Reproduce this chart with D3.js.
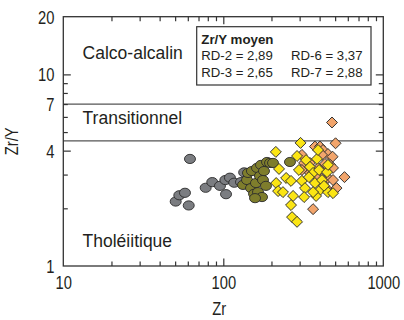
<!DOCTYPE html>
<html lang="fr">
<head>
<meta charset="UTF-8">
<title>Zr/Y vs Zr</title>
<script src="https://cdn.jsdelivr.net/npm/d3@7"></script>
<style>
    body { margin: 0; background: #fff; }
    text { font-family: "Liberation Sans", Arial, sans-serif; fill: #231f20; }
</style>
</head>
<body>
<div id="chart"></div>
<script>
    // values: [Zr, Zr/Y]
    var grisPts = [
        [61.9, 3.62], [50.4, 2.17], [53.1, 2.34], [57.6, 2.41], [60.8, 2.07],
        [77.6, 2.56], [85.3, 2.74], [95.3, 2.62], [104, 2.37], [103, 2.81],
        [110, 2.89], [117, 2.72], [129, 2.74], [135, 3.08]
    ];
    var olivePts = [
        [132.8, 2.65], [140.7, 2.81], [142.6, 3.06], [149, 2.55], [151, 3.13],
        [155.6, 2.38], [160, 2.71], [162.4, 3.25], [164.8, 2.43], [169.5, 2.95],
        [172, 3.37], [177, 2.81], [179.6, 3.13], [184.8, 2.62], [187.6, 3.49],
        [195.9, 3.45], [204.5, 3.45], [174.6, 2.29], [261, 3.49], [157.9, 2.26]
    ];
    var orangePts = [
        [478, 5.61], [503, 4.37], [374, 4.20], [402, 4.20], [420, 4.03],
        [310, 3.80], [451, 3.84], [482, 3.72], [320, 3.45], [348, 3.45],
        [432, 3.41], [465, 3.37], [310, 3.17], [348, 3.06], [485, 3.25],
        [451, 2.88], [572, 2.91], [510, 2.55], [364, 1.98], [408, 2.88],
        [485, 2.81], [414, 3.80], [391, 3.25], [439, 2.55], [380, 2.95]
    ];
    var jaunePts = [
        [213, 3.94], [223, 3.21], [214, 2.71], [220, 2.46], [236, 2.43],
        [247, 2.88], [265, 2.78], [273, 2.32], [265, 2.08], [269, 1.80],
        [289, 1.70], [289, 3.75], [304, 4.39], [297, 3.17], [310, 2.78],
        [324, 2.55], [320, 2.29], [329, 3.57], [348, 3.29], [364, 3.06],
        [374, 2.71], [385, 3.62], [391, 4.03], [397, 3.17], [402, 2.49],
        [380, 2.32], [414, 2.81], [445, 3.09], [451, 2.43], [485, 2.40],
        [451, 3.37], [364, 2.43], [343, 2.91], [426, 2.62]
    ];

    var xTicks = [10, 20, 30, 40, 50, 60, 70, 80, 90, 100, 200, 300, 400, 500, 600, 700, 800, 900, 1000];
    var xLabels = [10, 100, 1000];
    var yTicks = [1, 2, 3, 4, 5, 6, 7, 8, 9, 10, 20];
    var yLabels = [1, 4, 7, 10, 20];
    var yMajor = [4, 10];
    var limites = [7, 4.5];

    var zones = [
        { label: "Calco-alcalin", zr: 13.2, zry: 12.1 },
        { label: "Transitionnel", zr: 13.2, zry: 5.50 },
        { label: "Tholéiitique", zr: 13.2, zry: 1.25 }
    ];

    var legendTitle = "Zr/Y moyen";
    var legendRows = [
        ["RD-2 = 2,89", "RD-6 = 3,37"],
        ["RD-3 = 2,65", "RD-7 = 2,88"]
    ];

    var margin = { top: 16.7, right: 20.7, bottom: 54, left: 63.3 },
        width = 404 - margin.left - margin.right,
        height = 320 - margin.top - margin.bottom;

    var svg = d3.select("#chart")
        .append("svg")
        .attr("width", 404)
        .attr("height", 320)
        .append("g")
        .attr("transform", "translate(" + margin.left + "," + margin.top + ")");

    var x = d3.scaleLog().domain([10, 1000]).range([0, width]);
    var y = d3.scaleLog().domain([1, 20]).range([height, 0]);

    var axisColor = "#333";
    var narrow = 0.82;

    // horizontal boundaries
    svg.selectAll(".limite")
        .data(limites)
        .enter()
        .append("line")
        .attr("x1", 0)
        .attr("x2", width)
        .attr("y1", d => y(d))
        .attr("y2", d => y(d))
        .attr("stroke", "#555")
        .attr("stroke-width", 1.3);

    // zone labels
    svg.selectAll(".zone")
        .data(zones)
        .enter()
        .append("text")
        .attr("x", d => x(d.zr))
        .attr("y", d => y(d.zry))
        .attr("font-size", "17.5px")
        .text(d => d.label);

    // axes, ticks inside on all four sides
    function xLen(d) { return (d === 10 || d === 1000) ? 0 : (d === 100 ? 7.5 : 4.5); }
    function yLen(d) { return (d === 1 || d === 20) ? 0 : (yMajor.indexOf(d) >= 0 ? 7.5 : 4.5); }
    var xFmt = d => xLabels.indexOf(d) >= 0 ? d : "";
    var yFmt = d => yLabels.indexOf(d) >= 0 ? d : "";

    var gB = svg.append("g").attr("transform", "translate(0," + height + ")")
        .call(d3.axisBottom(x).tickValues(xTicks).tickFormat(xFmt).tickSize(-5).tickPadding(10.7));
    gB.selectAll(".tick line").attr("y2", d => -xLen(d));

    var gT = svg.append("g")
        .call(d3.axisTop(x).tickValues(xTicks).tickFormat("").tickSize(-5));
    gT.selectAll(".tick line").attr("y2", d => xLen(d));

    var gL = svg.append("g")
        .call(d3.axisLeft(y).tickValues(yTicks).tickFormat(yFmt).tickSize(-5).tickPadding(10.8));
    gL.selectAll(".tick line").attr("x2", d => yLen(d));

    var gR = svg.append("g").attr("transform", "translate(" + width + ",0)")
        .call(d3.axisRight(y).tickValues(yTicks).tickFormat("").tickSize(-5));
    gR.selectAll(".tick line").attr("x2", d => -yLen(d));

    [gB, gT, gL, gR].forEach(function (g) {
        g.select(".domain").remove();
        g.selectAll(".tick line").attr("stroke", axisColor).attr("stroke-width", 1.2);
        g.selectAll(".tick text")
            .attr("fill", "#231f20")
            .style("font-family", "'Liberation Sans', Arial, sans-serif")
            .style("font-size", "18px");
    });
    gL.selectAll(".tick text").attr("dy", "0.36em")
        .attr("transform", "scale(" + narrow + ",1)");
    gB.selectAll(".tick text").attr("transform", "scale(" + narrow + ",1)");

    svg.append("rect")
        .attr("width", width)
        .attr("height", height)
        .attr("fill", "none")
        .attr("stroke", axisColor)
        .attr("stroke-width", 1.3);

    // axis titles
    svg.append("text")
        .attr("transform", "translate(" + (width / 2 - 4) + "," + (height + 49) + ") scale(" + narrow + ",1)")
        .attr("text-anchor", "middle")
        .attr("font-size", "18px")
        .text("Zr");

    svg.append("text")
        .attr("transform", "translate(-45.5," + (height / 2) + ") rotate(-90) scale(" + narrow + ",1)")
        .attr("text-anchor", "middle")
        .attr("font-size", "18px")
        .text("Zr/Y");

    // points
    var circStyle = { stroke: "#2b2b2b", width: 0.9 };

    function cercles(data, fill) {
        svg.append("g").selectAll("ellipse")
            .data(data)
            .enter()
            .append("ellipse")
            .attr("cx", d => x(d[0]))
            .attr("cy", d => y(d[1]))
            .attr("rx", 5.5)
            .attr("ry", 4.6)
            .attr("fill", fill)
            .attr("stroke", circStyle.stroke)
            .attr("stroke-width", circStyle.width);
    }

    var losange = d3.symbol().type(d3.symbolSquare).size(60);

    function losanges(data, fill) {
        svg.append("g").selectAll("path")
            .data(data)
            .enter()
            .append("path")
            .attr("d", losange)
            .attr("transform", d => "translate(" + x(d[0]) + "," + y(d[1]) + ") rotate(45)")
            .attr("fill", fill)
            .attr("stroke", circStyle.stroke)
            .attr("stroke-width", circStyle.width);
    }

    cercles(grisPts, "#7b7d81");
    cercles(olivePts, "#7e7d2c");
    losanges(orangePts, "#f2a56c");
    losanges(jaunePts, "#fbe514");

    // legend box
    var leg = svg.append("g").attr("transform", "translate(" + (196.7 - margin.left) + "," + (26.7 - margin.top) + ")");
    leg.append("rect")
        .attr("width", 174.3)
        .attr("height", 58.3)
        .attr("fill", "#fff")
        .attr("stroke", "#333")
        .attr("stroke-width", 1.2);
    leg.append("text")
        .attr("x", 4.6)
        .attr("y", 17)
        .attr("font-size", "13.3px")
        .attr("font-weight", "bold")
        .text(legendTitle);
    legendRows.forEach(function (row, i) {
        row.forEach(function (t, j) {
            leg.append("text")
                .attr("x", j === 0 ? 4.6 : 94.3)
                .attr("y", 33.8 + i * 16.3)
                .attr("font-size", "13.2px")
                .text(t);
        });
    });
</script>
</body>
</html>
